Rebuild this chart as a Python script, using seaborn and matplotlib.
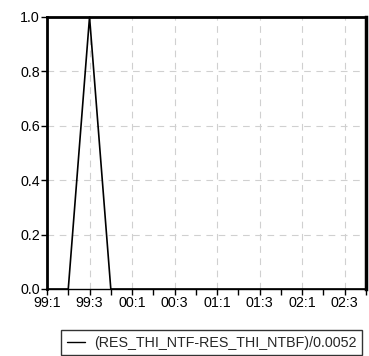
import numpy as np
import pandas as pd
import seaborn as sns
import matplotlib.pyplot as plt

# quarterly series, 1999Q1 .. 2002Q4
quarters = ['99:1', '99:2', '99:3', '99:4', '00:1', '00:2', '00:3', '00:4',
            '01:1', '01:2', '01:3', '01:4', '02:1', '02:2', '02:3', '02:4']
values = [0, 0, 1, 0, 0, 0, 0, 0, 0, 0, 0, 0, 0, 0, 0, 0]
series_name = '(RES_THI_NTF-RES_THI_NTBF)/0.0052'
y_ticks = [0.0, 0.2, 0.4, 0.6, 0.8, 1.0]

sns.set_style('white')
plt.rcParams['font.family'] = ['Liberation Sans', 'DejaVu Sans']
fsize = 10.3

df = pd.DataFrame({'t': np.arange(len(quarters)), 'v': values, 'name': series_name})

fig = plt.figure(figsize=(3.69, 3.56), dpi=100)
ax = fig.add_axes([47 / 369, 1 - 289 / 356, 319 / 369, 272 / 356])

sns.lineplot(data=df, x='t', y='v', hue='name', palette=['black'], ax=ax,
             linewidth=1.2, legend=False, clip_on=False, zorder=5)

ax.set_xlim(0, len(quarters) - 1)
ax.set_ylim(0, 1)
ax.set_xticks(df['t'][::2])
ax.set_xticklabels(quarters[::2])
ax.set_xticks(df['t'], minor=True)
ax.set_yticks(y_ticks)
ax.set_yticklabels([f'{v:.1f}' for v in y_ticks])
ax.set_xlabel('')
ax.set_ylabel('')

ax.tick_params(axis='both', which='both', direction='out', length=4, width=1,
               colors='black', labelsize=fsize, pad=1, bottom=True, left=True)
ax.tick_params(axis='x', which='minor', length=4)

for x in df['t'][2::2]:
    ax.axvline(x, color='#d0d0d0', linestyle=(0, (6, 5)), linewidth=0.8, zorder=1)
for y in y_ticks[1:-1]:
    ax.axhline(y, color='#d0d0d0', linestyle=(0, (6, 5)), linewidth=0.8, zorder=1)

for side in ['left', 'top', 'right']:
    ax.spines[side].set_linewidth(2)
    ax.spines[side].set_color('black')
ax.spines['right'].set_linewidth(2.5)
ax.spines['bottom'].set_linewidth(1)
ax.spines['bottom'].set_color('black')

handle = plt.Line2D([], [], color='black', linewidth=1)
leg = fig.legend([handle], [series_name], loc='upper left',
                 bbox_to_anchor=(61 / 369, 1 - 330 / 356), frameon=True,
                 fancybox=False, edgecolor='black', fontsize=fsize,
                 handlelength=1.3, handletextpad=0.6, borderpad=0.4,
                 borderaxespad=0)
leg.get_frame().set_linewidth(1)

fig.savefig('out.png', dpi=100)
